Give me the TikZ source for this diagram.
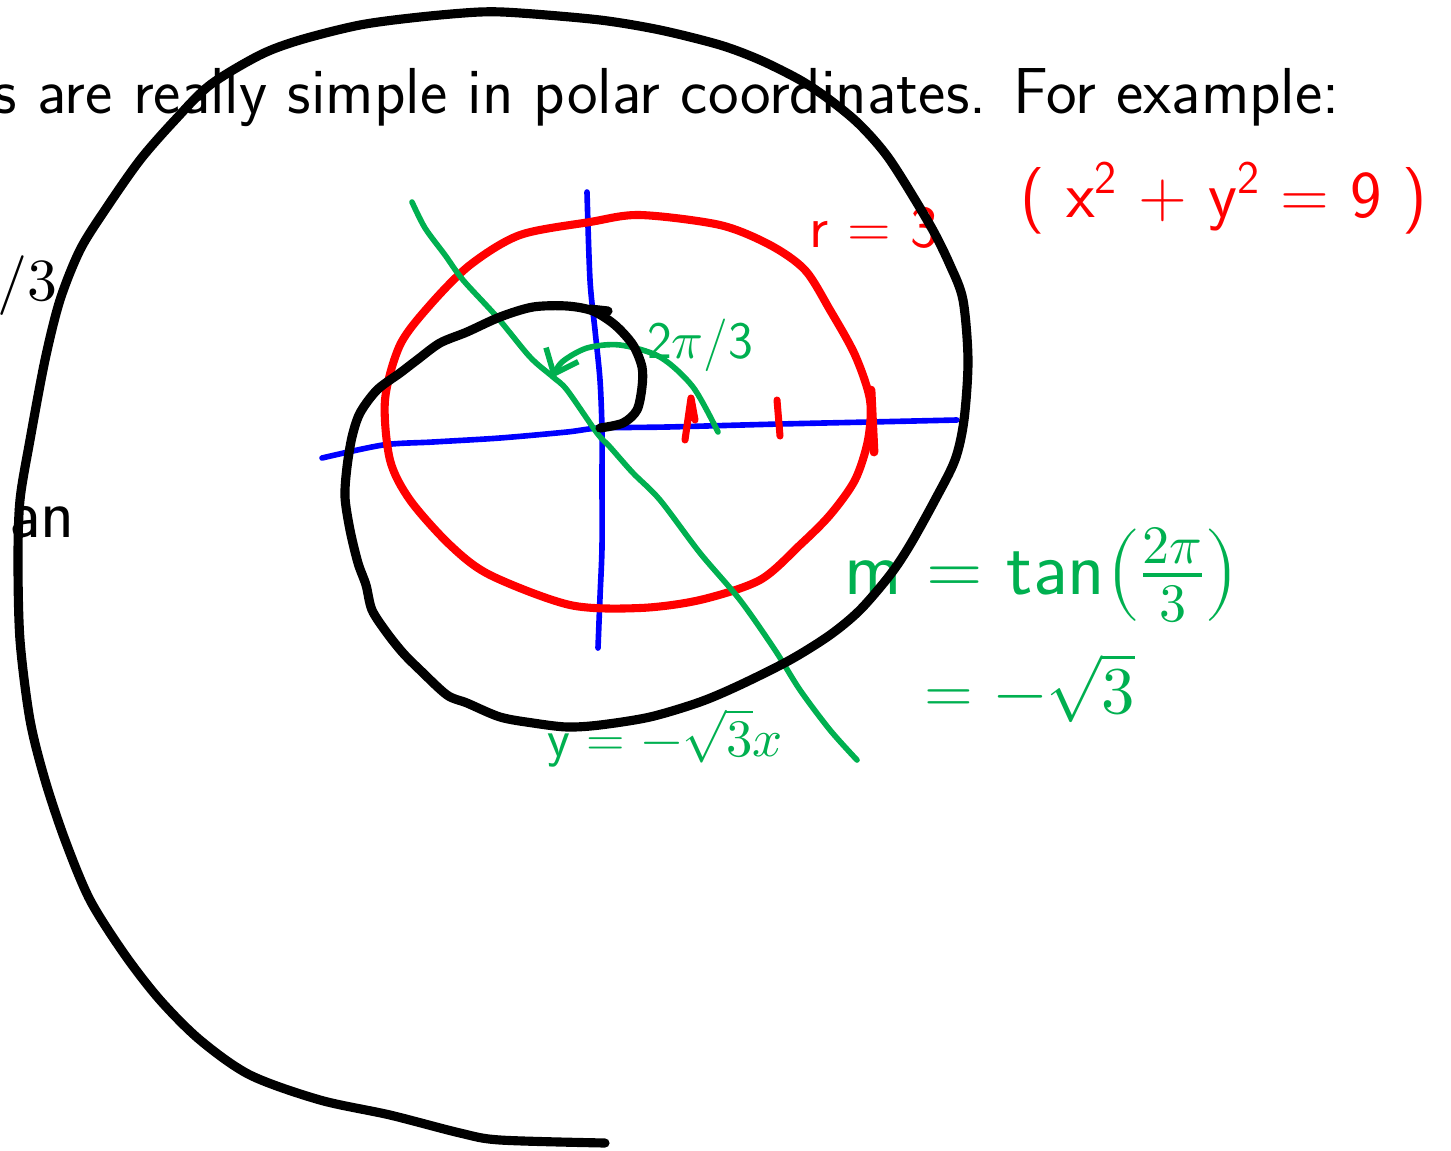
\documentclass[tikz,border=0pt]{standalone}
\usepackage{unicode-math}
\usetikzlibrary{arrows.meta}
\definecolor{inkgreen}{RGB}{0,176,80}

\begin{document}
\begin{tikzpicture}[>=Latex,x={(0.02cm,0cm)},y={(0cm,-0.02cm)},
  pen/.style={line cap=round,line join=round},
  note/.style={inner sep=0pt,font=\sffamily\fontsize{#1}{#1}\selectfont}]
  \useasboundingbox (0,0) rectangle (1451,1150);
  \clip (0,0) rectangle (1451,1150);

  % Slide text under the ink
  \node[note=37,anchor=base east] (slide) at (1340,113) {s are really simple in polar coordinates. For example:};
  \node[inner sep=0pt,anchor=base east,font=\fontsize{34}{38}\selectfont] (frac) at (58,300) {$/3$};

  % Axes
  \draw[pen,blue,line width=3.2pt] plot[smooth] coordinates {(322,458) (383,445) (433,442) (500,438) (567,432) (600,428) (667,427) (780,424) (870,422) (957,420)};
  \draw[pen,blue,line width=3.2pt] plot[smooth] coordinates {(587,192) (590,280) (595,330) (600,380) (602,430) (602,480) (602,547) (600,597) (598,648)};

  % Circle r = 3 with tick marks
  \draw[pen,red,line width=4.6pt] plot[smooth cycle] coordinates {(590,222) (640,215) (720,225) (770,245) (805,270) (830,310) (855,355) (870,400) (868,440) (855,480) (830,515) (800,545) (760,580) (700,600) (640,608) (570,605) (490,575) (450,545) (410,500) (390,460) (385,400) (400,345) (430,305) (470,265) (520,235)};
  \draw[pen,red,line width=4pt] (685,440) -- (691,398) -- (695,420);
  \draw[pen,red,line width=4pt] (777,400) -- (780,436);
  \draw[pen,red,line width=5pt] (871,390) -- (874,452);

  % Line through the origin and the angle
  \draw[pen,inkgreen,line width=3.2pt] plot[smooth] coordinates {(412,202) (425,228) (445,255) (463,280) (497,317) (530,357) (553,377) (567,390) (597,433) (610,447) (633,473) (660,500) (700,553) (740,600) (775,650) (800,690) (830,730) (857,760)};
  \draw[pen,inkgreen,line width=3.2pt,-{Straight Barb[length=12pt,width=20pt]}] plot[smooth] coordinates {(718,432) (693,387) (660,357) (620,345) (587,348) (562,362) (552,378)};

  % Hand notes
  \node[note=34,red] (radius) at (874,228) {r = 3};
  \node[note=38,red] (cartesian) at (1224,198) {( x\textsuperscript{2} + y\textsuperscript{2} = 9 )};
  \node[note=30,inkgreen] (theta) at (700,345) {2$\pi$/3};
  \node[note=44,inkgreen] (slope) at (1042,575) {m = tan$\left(\frac{2\pi}{3}\right)$};
  \node[note=38,inkgreen] (root) at (1030,688) {= $-\sqrt{3}$};
  \node[note=30,inkgreen] (line) at (665,738) {y = $-\sqrt{3}x$};
  \node[note=40,anchor=base] (word) at (42,537) {an};

  % Spiral r = theta
  \draw[pen,line width=5.2pt] plot[smooth] coordinates {(600,428) (623,423) (637,410) (642,387) (642,367) (633,345) (615,325) (593,311) (567,306) (533,307) (500,317) (467,332) (440,343) (417,360) (400,373) (377,390) (360,413) (352,437) (347,467) (345,497) (350,530) (358,563) (366,585) (372,610) (387,633) (403,653) (420,670) (447,695) (467,703) (500,717) (533,723) (567,727) (600,725) (650,717) (700,702) (740,685) (790,660) (830,635) (860,610) (890,575) (910,545) (935,500) (955,460) (964,420) (968,360) (963,300) (950,265) (930,225) (890,160) (860,125) (830,100) (800,80) (760,60) (720,45) (660,30) (600,20) (520,13) (480,12) (420,17) (360,25) (300,40) (260,55) (210,85) (175,120) (140,160) (105,210) (80,250) (60,300) (45,360) (30,440) (20,500) (18,560) (20,640) (30,720) (45,780) (65,840) (90,900) (125,955) (160,1000) (200,1040) (250,1075) (320,1100) (390,1115) (460,1133) (500,1140) (605,1143)};
  \draw[pen,line width=5.2pt] (590,309) -- (608,311);
\end{tikzpicture}
\end{document}
